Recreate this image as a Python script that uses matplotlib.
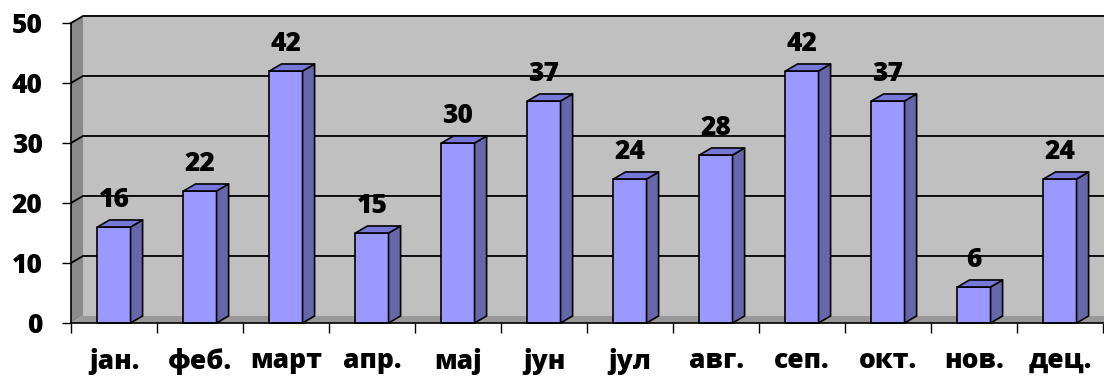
import matplotlib
matplotlib.use('Agg')
import matplotlib.pyplot as plt
from matplotlib.patches import Polygon

# monthly counts
months = ['јан.', 'феб.', 'март', 'апр.', 'мај', 'јун',
          'јул', 'авг.', 'сеп.', 'окт.', 'нов.', 'дец.']
counts = [16, 22, 42, 15, 30, 37, 24, 28, 42, 37, 6, 24]
yticks = [0, 10, 20, 30, 40, 50]

plt.rcParams['font.family'] = ['Open Sans', 'DejaVu Sans']
FS = 19
FW = 'heavy'

# pseudo 3d depth offset in data units
DX = 0.14
DY = 1.17
BAR_W = 0.385
X0, X1 = -0.5, 11.5
YMAX = 50

fig = plt.figure(figsize=(11.04, 3.76), dpi=100)
ax = fig.add_axes([71 / 1104, 53 / 376, 1032 / 1104, 300 / 376])
ax.set_xlim(X0, X1)
ax.set_ylim(0, YMAX)
ax.patch.set_visible(False)

def poly(pts, fc, ec='none', lw=0, z=1):
    p = Polygon(pts, closed=True, facecolor=fc, edgecolor=ec, linewidth=lw,
                zorder=z, clip_on=False, joinstyle='round')
    ax.add_patch(p)

far = X1 + 1.0
# back wall, left wall, floor
poly([(X0 + DX, DY), (far, DY), (far, YMAX + DY), (X0 + DX, YMAX + DY)], '#c0c0c0', z=0.5)
poly([(X0, 0), (X0 + DX, DY), (X0 + DX, YMAX + DY), (X0, YMAX)], '#8a8a8a', z=0.6)
poly([(X0, 0), (X0 + DX, DY), (far, DY), (far, 0)], '#999999', z=0.7)

# gridlines running over the side wall and along the back wall
for v in yticks[1:]:
    ax.plot([X0, X0 + DX, far], [v, v + DY, v + DY], color='black', lw=1.3,
            zorder=0.9, clip_on=False, solid_joinstyle='round')

# bars
for i, v in enumerate(counts):
    l, r = i - BAR_W / 2, i + BAR_W / 2
    poly([(l, 0), (r, 0), (r, v), (l, v)], '#9999ff', 'black', 1.2, 3)
    poly([(r, 0), (r + DX, DY), (r + DX, v + DY), (r, v)], '#6666aa', 'black', 1.2, 3)
    poly([(l, v), (r, v), (r + DX, v + DY), (l + DX, v + DY)], '#7777d8', 'black', 1.2, 3)
    ax.text(i, v + DY + 2.2, str(v), ha='center', va='baseline',
            fontsize=FS, fontweight=FW, zorder=4)

for s in ['top', 'right']:
    ax.spines[s].set_visible(False)
ax.spines['left'].set_linewidth(1.2)
ax.spines['bottom'].set_linewidth(1.2)
ax.spines['left'].set_zorder(5)
ax.spines['bottom'].set_zorder(5)

ax.set_yticks(yticks)
ax.set_yticklabels([str(t) for t in yticks], fontsize=FS, fontweight=FW)
ax.tick_params(axis='y', length=6.5, width=1, pad=14)

ax.set_xticks(range(len(months)))
ax.set_xticklabels(months, fontsize=FS, fontweight=FW)
ax.set_xticks([x - 0.5 for x in range(len(months) + 1)], minor=True)
ax.tick_params(axis='x', which='major', length=0, pad=18)
ax.tick_params(axis='x', which='minor', length=7, width=1)

fig.savefig('out.png', dpi=100)
